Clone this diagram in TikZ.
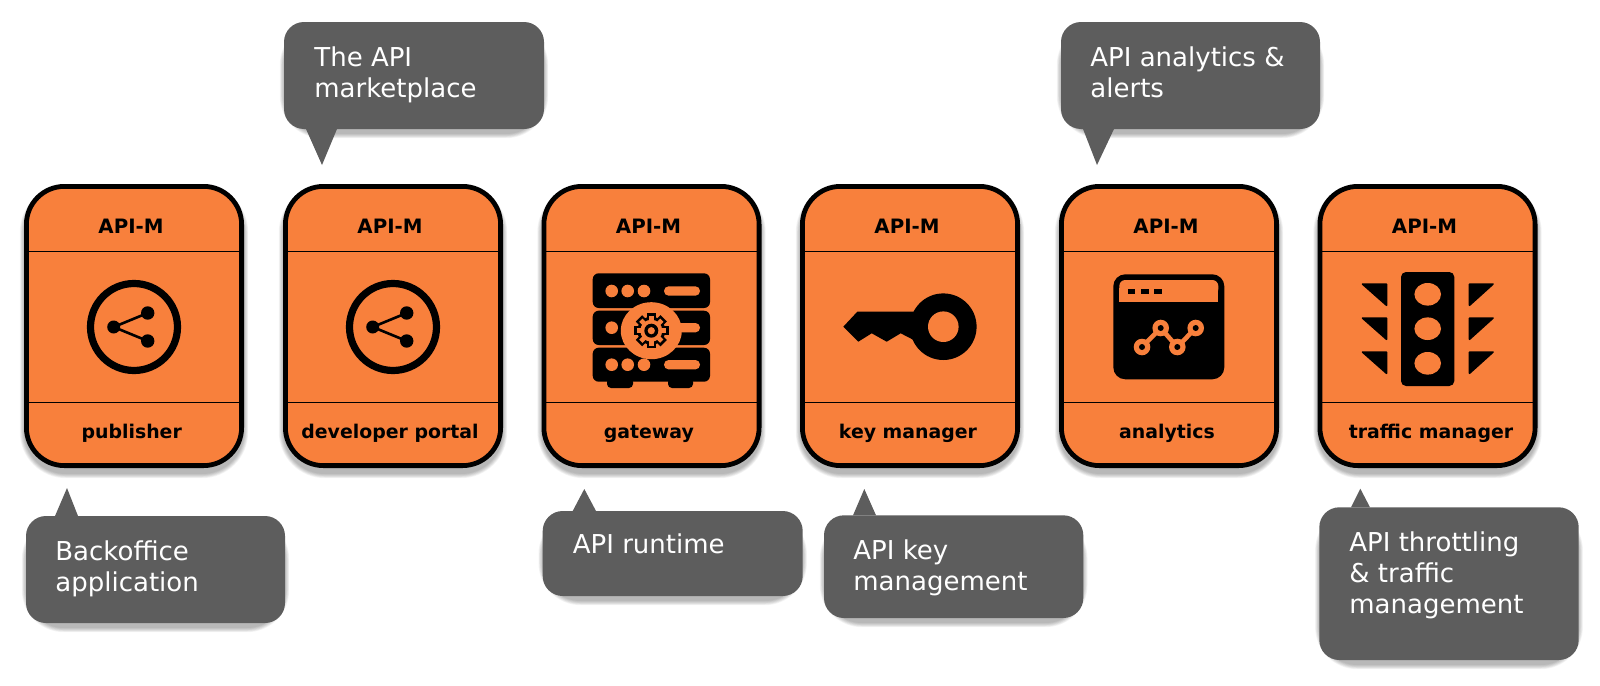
\documentclass[tikz,border=0pt]{standalone}
\usepackage{fontspec}
\setmainfont{DejaVu Sans}
\definecolor{cardfill}{HTML}{F8803C}
\definecolor{bubblefill}{HTML}{5D5D5D}
\tikzset{
  cardtitle/.style={font=\bfseries\fontsize{9.9}{11}\selectfont,text=black,inner sep=0pt,anchor=base},
  cardlabel/.style={font=\bfseries\fontsize{9.45}{11}\selectfont,text=black,inner sep=0pt,anchor=base},
  bubbletext/.style={font=\fontsize{13}{15.5}\selectfont,text=white,inner sep=0pt,anchor=north west,align=left},
  thinrule/.style={draw=black,line width=0.5pt},
  hole/.style={fill=cardfill,draw=none}
}
\newcommand{\softrect}[6]{% x0 y0 x1 y1 radius drop
  \foreach \i in {6,5,...,0}{
    \pgfmathsetmacro{\ax}{#1-\i*0.7}\pgfmathsetmacro{\ay}{#2+#6-\i*0.7}
    \pgfmathsetmacro{\bx}{#3+\i*0.7}\pgfmathsetmacro{\by}{#4+#6+\i*0.7}
    \pgfmathsetmacro{\rr}{(#5+\i*0.7)/2}
    \fill[black,opacity=0.045,rounded corners=\rr pt] (\ax,\ay) rectangle (\bx,\by);
  }}
\newcommand{\apicard}[4]{% name, left, bottom label, label offset from centre
  \pgfmathsetmacro{\xl}{#2}\pgfmathsetmacro{\xr}{#2+220}
  \pgfmathsetmacro{\xc}{#2+107}\pgfmathsetmacro{\xd}{#2+110+#4}
  \softrect{\xl}{184}{\xr}{468}{42}{6}
  \draw[fill=cardfill,draw=black,line width=2.4pt,rounded corners=19pt] (\xl+2.4,186.4) rectangle (\xr-2.4,465.6);
  \draw[thinrule] (\xl+4,251) -- (\xr-4,251);
  \draw[thinrule] (\xl+4,402) -- (\xr-4,402);
  \node[cardtitle] (#1top) at (\xc,233) {API-M};
  \node[cardlabel] (#1bot) at (\xd,438) {#3};
}
\newcommand{\speech}[9]{% name, x0,y0,x1,y1, tail a, tail b, tip x, tip y
  \softrect{#2}{#3}{#4}{#5}{38}{5}
  \fill[bubblefill,rounded corners=10pt] (#2,#3) rectangle (#4,#5);
  \coordinate (#1tip) at (#8,#9);
  \fill[bubblefill] (#6) -- (#7) -- (#1tip) -- cycle;
}
\newcommand{\shareicon}[1]{%
  \begin{scope}[shift={(#1,327)}]
    \draw[black,line width=3.6pt] (0,0) circle[radius=43.5];
    \draw[black,line width=1.3pt] (13.7,-14) -- (-20.3,0) -- (13.7,14);
    \fill (-20.3,0) circle[radius=6.5];
    \fill (13.7,-14) circle[radius=6.7];
    \fill (13.7,14) circle[radius=6.7];
  \end{scope}}
\begin{document}
\begin{tikzpicture}[x=0.5pt,y=-0.5pt]
\useasboundingbox (0,0) rectangle (1600,685);
\fill[white] (0,0) rectangle (1600,685);

\apicard{c1}{24}{publisher}{-2.3}
\apicard{c2}{283}{developer portal}{-3}
\apicard{c3}{541.5}{gateway}{-2.7}
\apicard{c4}{800}{key manager}{-2}
\apicard{c5}{1059}{analytics}{-2}
\apicard{c6}{1317.5}{traffic manager}{3.5}

% share icons
\shareicon{134}
\shareicon{393}

% gateway icon
\foreach \yt/\yb in {273.3/308,310.7/345,347.7/381.7}{
  \fill[black,rounded corners=3pt] (592.7,\yt) rectangle (710,\yb);
}
\fill[black,rounded corners=2pt] (607,378) rectangle (633,388);
\fill[black,rounded corners=2pt] (668,378) rectangle (693,388);
\foreach \y in {291,364.7}{
  \foreach \x in {611.7,627.7,644}{\fill[hole] (\x,\y) circle[radius=6.3];}
  \fill[hole,rounded corners=2.3pt] (664,\y-4.7) rectangle (700,\y+4.7);
}
\fill[hole] (611.7,327.7) circle[radius=6.3];
\fill[hole,rounded corners=2.3pt] (664,323) rectangle (700,332.4);
\fill[hole] (651.3,330.7) ellipse[x radius=30.5,y radius=28.5];
\begin{scope}[shift={(651.3,330.7)}]
  \foreach \a in {0,45,...,315}{
    \fill[black,rotate=\a] (-4.5,-17.5) rectangle (4.5,-8);
  }
  \fill[black] (0,0) circle[radius=14];
  \foreach \a in {0,45,...,315}{
    \fill[hole,rotate=\a] (-2.3,-14.8) rectangle (2.3,-8);
  }
  \fill[hole] (0,0) circle[radius=11];
  \fill[black] (0,0) circle[radius=7];
  \fill[hole] (0,0) circle[radius=3.6];
\end{scope}

% key icon
\fill[black] (943.3,326.7) circle[radius=33.3];
\fill[black] (843.3,326.7) -- (857.3,311.7) -- (925,311.7) -- (925,345) -- (915,340.7)
  -- (900.7,333.3) -- (886.7,341.7) -- (871.7,333.3) -- (858.3,341.7) -- cycle;
\fill[hole] (943.3,326.7) circle[radius=15.3];

% analytics icon
\fill[black,rounded corners=6pt] (1113.3,274.3) rectangle (1224.3,379.3);
\fill[hole,rounded corners=3pt] (1119.3,280) rectangle (1218.3,295);
\fill[hole] (1119.3,288) rectangle (1218.3,301.7);
\foreach \xa/\xb in {1127.7/1135.3,1141/1149,1154.3/1162}{
  \fill[black] (\xa,288.7) rectangle (\xb,294);
}
\draw[cardfill,line width=2.3pt] (1142,347) -- (1160.7,328) -- (1177.3,347) -- (1195.7,328);
\foreach \x/\y in {1142/347,1160.7/328,1177.3/347,1195.7/328}{
  \fill[hole] (\x,\y) circle[radius=8.3];
  \fill[black] (\x,\y) circle[radius=3];
}

% traffic icon
\fill[black,rounded corners=2.5pt] (1401,272) rectangle (1454.3,386);
\foreach \y in {294.3,328.7,363.3}{
  \fill[hole] (1427.7,\y) ellipse[x radius=13.3,y radius=11.3];
}
\foreach \y in {294.3,328.3,362.3}{
  \fill[black,draw=black,line width=0.8pt,line join=round] (1362.5,\y-10.2) -- (1386.5,\y-10.2) -- (1386.5,\y+11) -- cycle;
  \fill[black,draw=black,line width=0.8pt,line join=round] (1469.5,\y-10.2) -- (1493,\y-10.2) -- (1469.5,\y+11) -- cycle;
}

% bubbles
\speech{b1}{26}{516}{285}{623}{55,516}{78,516}{67}{488}
\node[bubbletext] (t1) at (55,540) {\rule{0pt}{10pt}Backoffice\\application};

\speech{b2}{284}{22}{544}{129}{306,129}{337,129}{322}{165}
\node[bubbletext] (t2) at (314,46) {\rule{0pt}{10pt}The API\\marketplace};

\speech{b3}{542.7}{511}{802.7}{596}{572.7,511}{596,511}{584.3}{489}
\node[bubbletext] (t3) at (572.5,533.3) {\rule{0pt}{10pt}API runtime};

\speech{b4}{824}{515.3}{1083.3}{618}{853,515.3}{876,515.3}{864.3}{489}
\node[bubbletext] (t4) at (853,538.6) {\rule{0pt}{10pt}API key\\management};

\speech{b5}{1061}{22}{1320}{129}{1083,129}{1114,129}{1097}{165}
\node[bubbletext] (t5) at (1090,46) {\rule{0pt}{10pt}API analytics \&\\alerts};

\speech{b6}{1319.3}{507.3}{1578.7}{660}{1351,507.3}{1370,507.3}{1360.3}{488.7}
\node[bubbletext] (t6) at (1349,530.7) {\rule{0pt}{10pt}API throttling\\\& traffic\\management};
\end{tikzpicture}
\end{document}
